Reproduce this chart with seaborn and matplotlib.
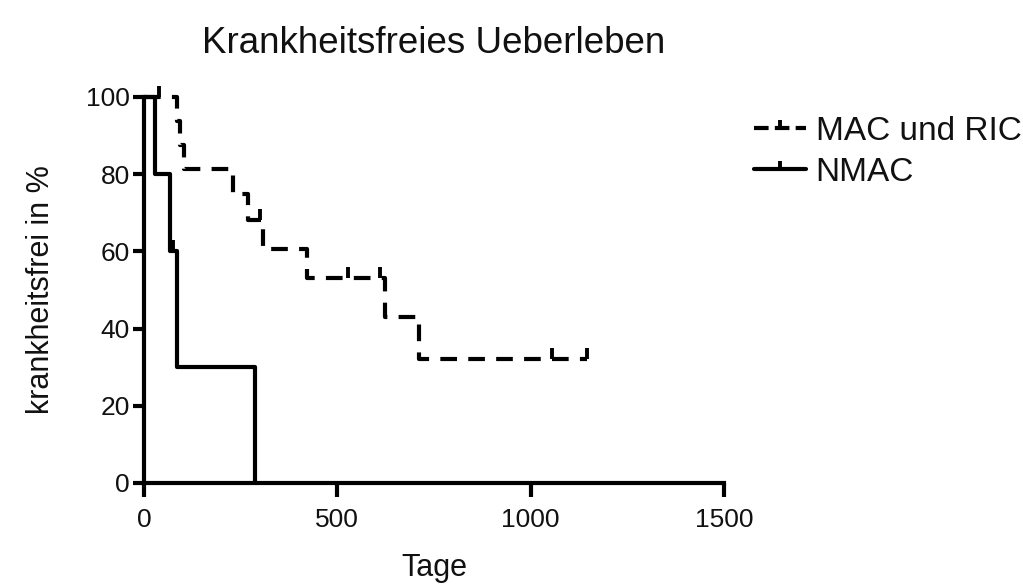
import numpy as np
import pandas as pd
import matplotlib
matplotlib.use("Agg")
import matplotlib.pyplot as plt
from matplotlib.lines import Line2D
import seaborn as sns

# ---- data ----
groups = ["MAC und RIC", "NMAC"]

mac_days = [0, 85, 93, 103, 230, 269, 308, 421, 623, 711, 1146]
mac_surv = [100, 93.75, 87.5, 81.25, 75.0, 68.2, 60.6, 53.0, 43.0, 32.0, 32.0]
mac_cens_days = [40, 300, 527, 610, 1055, 1146]
mac_cens_surv = [100, 68.2, 53.0, 53.0, 32.0, 32.0]

nmac_days = [0, 28, 67, 85, 287]
nmac_surv = [100, 80, 60, 30, 0]
nmac_cens_days = [75]
nmac_cens_surv = [60]

x_ticks = [0, 500, 1000, 1500]
y_ticks = [0, 20, 40, 60, 80, 100]

title = "Krankheitsfreies Ueberleben"
xlabel = "Tage"
ylabel = "krankheitsfrei in %"

# ---- long-form tables ----
curves = pd.concat([
    pd.DataFrame({"Tage": mac_days, "surv": mac_surv, "Gruppe": groups[0]}),
    pd.DataFrame({"Tage": nmac_days, "surv": nmac_surv, "Gruppe": groups[1]}),
], ignore_index=True)
cens = pd.concat([
    pd.DataFrame({"Tage": mac_cens_days, "surv": mac_cens_surv, "Gruppe": groups[0]}),
    pd.DataFrame({"Tage": nmac_cens_days, "surv": nmac_cens_surv, "Gruppe": groups[1]}),
], ignore_index=True)

sns.set_theme(style="ticks")
plt.rcParams["font.family"] = ["Liberation Sans", "DejaVu Sans"]

fig = plt.figure(figsize=(10.23, 5.85), dpi=100)
ax = fig.add_axes([144 / 1023, 1 - 483 / 585, 580 / 1023, 386 / 585])

LW = 3.0
dash = (4.0, 2.7)
sns.lineplot(data=curves, x="Tage", y="surv", hue="Gruppe", style="Gruppe",
             palette={groups[0]: "black", groups[1]: "black"},
             dashes={groups[0]: dash, groups[1]: ""},
             drawstyle="steps-post", estimator=None, sort=False,
             linewidth=LW, legend=False, ax=ax)
for ln in ax.get_lines():
    ln.set_clip_on(False)
    ln.set_dash_capstyle("butt")
    ln.set_solid_capstyle("butt")

sns.scatterplot(data=cens, x="Tage", y="surv", color="black", marker=2,
                s=60, linewidth=2.8, legend=False, ax=ax, clip_on=False, zorder=5)

ax.set_xlim(0, 1500)
ax.set_ylim(0, 100)
ax.set_xticks(x_ticks)
ax.set_yticks(y_ticks)
ax.tick_params(axis="both", labelsize=19, length=8, width=3, color="black",
               labelcolor="#111111", pad=2)
ax.tick_params(axis="x", length=10, pad=8)
for side in ["left", "bottom"]:
    ax.spines[side].set_linewidth(3)
    ax.spines[side].set_color("black")
sns.despine(ax=ax)

ax.set_xlabel(xlabel, fontsize=22, labelpad=15, color="#111111")
ax.set_ylabel(ylabel, fontsize=22, labelpad=22, color="#111111")
ax.set_title(title, fontsize=26.5, pad=32, color="#111111")

handles = [
    Line2D([], [], color="black", lw=LW, linestyle=(0, (3.5, 1.5)), marker=2,
           markersize=6, markeredgewidth=2.8, dash_capstyle="butt"),
    Line2D([], [], color="black", lw=LW, marker=2, markersize=6,
           markeredgewidth=2.8),
]
fig.legend(handles, groups, loc="upper left",
           bbox_to_anchor=(754 / 1023, 1 - 116 / 585),
           frameon=False, fontsize=24, handlelength=1.55, handletextpad=0.3,
           labelspacing=0.3, borderpad=0, borderaxespad=0, numpoints=1,
           labelcolor="#111111")

fig.savefig("out.png", dpi=100)
